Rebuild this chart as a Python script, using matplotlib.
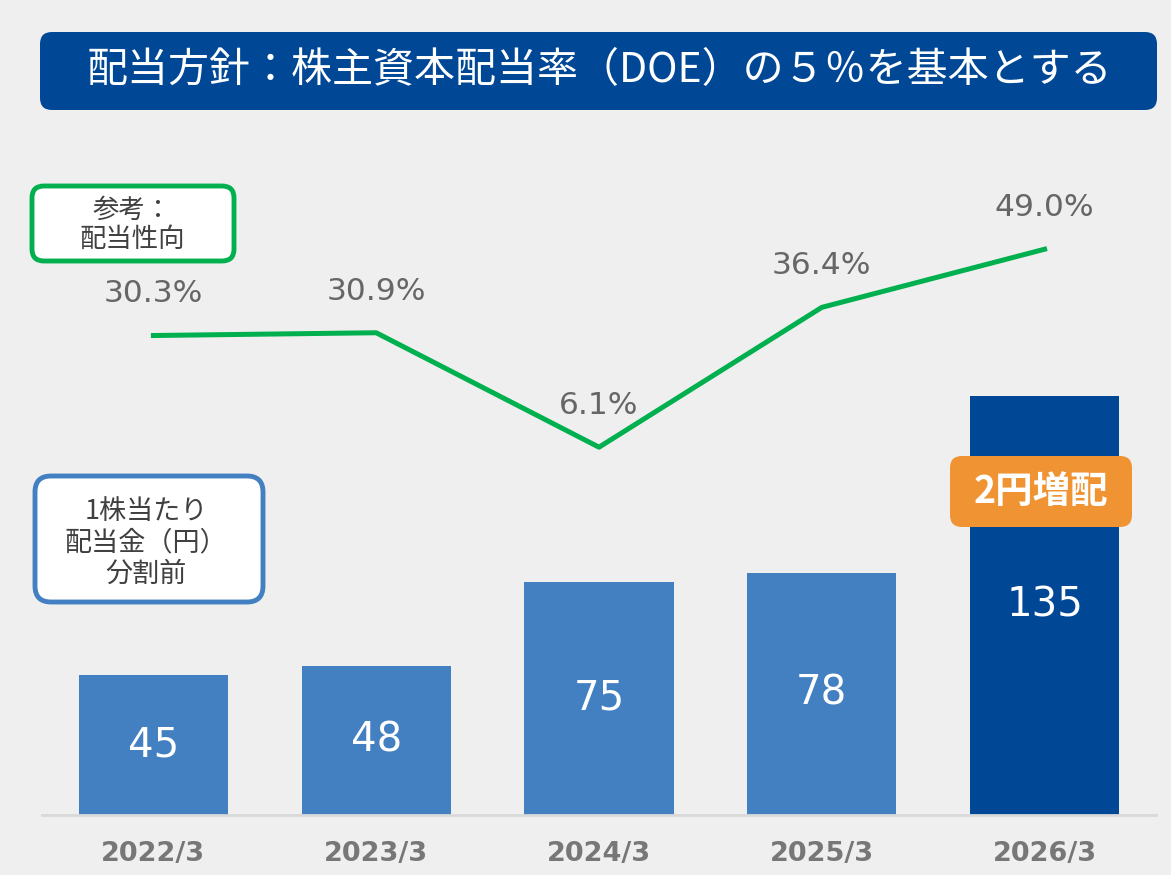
import matplotlib.pyplot as plt
from matplotlib.patches import FancyBboxPatch

plt.rcParams['font.family'] = ['Noto Sans CJK JP', 'DejaVu Sans']

# data
years = ['2022/3', '2023/3', '2024/3', '2025/3', '2026/3']
dividend = [45, 48, 75, 78, 135]
payout = [30.3, 30.9, 6.1, 36.4, 49.0]
title = '配当方針：株主資本配当率（DOE）の５％を基本とする'

W, H = 1171, 875
fig = plt.figure(figsize=(W / 100, H / 100), dpi=100, facecolor='#efefef')

# main axes for bars (pixel layout: left 42, right 1156, bottom 815, top 120)
left, right, bottom, top = 42, 1156, 815, 120
ax = fig.add_axes([left / W, 1 - bottom / H, (right - left) / W, (bottom - top) / H])
ax.set_facecolor('none')

x = range(len(years))
colors = ['#4380c2'] * 4 + ['#004896']
ax.bar(x, dividend, width=0.67, color=colors, zorder=2)
ax.set_xlim(-0.5, 4.5)
ax.set_ylim(0, 224)
for i, v in enumerate(dividend):
    ax.text(i, v / 2, f'{v}', ha='center', va='center', color='white',
            fontsize=29, family='DejaVu Sans', zorder=3)

ax.set_xticks(list(x))
ax.set_xticklabels(years, fontsize=19.5, fontweight='bold', color='#777777',
                   family='DejaVu Sans')
ax.tick_params(axis='x', length=0, pad=19)
ax.set_yticks([])
for s in ['top', 'right', 'left']:
    ax.spines[s].set_visible(False)
ax.spines['bottom'].set_color('#d9d9d9')
ax.spines['bottom'].set_linewidth(2)

# line on twin axis
ax2 = ax.twinx()
ax2.set_facecolor('none')
ax2.plot(list(x), payout, color='#00b04f', linewidth=3.6, zorder=4)
ax2.set_ylim(-73.6, 77.0)
ax2.set_yticks([])
for s in ax2.spines.values():
    s.set_visible(False)
for i, v in enumerate(payout):
    ax2.annotate(f'{v:.1f}%', (i, v), xytext=(0, 30), textcoords='offset points',
                 ha='center', va='center', color='#666666', fontsize=22.5,
                 family='DejaVu Sans')

# overlay in pixel coordinates for boxes
ov = fig.add_axes([0, 0, 1, 1], zorder=5)
ov.set_xlim(0, W)
ov.set_ylim(H, 0)
ov.axis('off')
ov.patch.set_alpha(0)

ov.add_patch(FancyBboxPatch((40, 32), 1117, 78, boxstyle='round,pad=0,rounding_size=12',
                            facecolor='#004896', edgecolor='none'))
ov.text(599, 71, title, ha='center', va='center', color='white', fontsize=29.5)

ov.add_patch(FancyBboxPatch((32, 186), 202, 75, boxstyle='round,pad=0,rounding_size=12',
                            facecolor='white', edgecolor='#00b04f', linewidth=3.5))
ov.text(132, 225, '参考：\n配当性向', ha='center', va='center', color='#404040',
        fontsize=19, linespacing=1.1)

ov.add_patch(FancyBboxPatch((35, 476), 228, 126, boxstyle='round,pad=0,rounding_size=16',
                            facecolor='white', edgecolor='#4380c2', linewidth=3.5))
ov.text(146, 543, '1株当たり\n配当金（円）\n分割前', ha='center', va='center',
        color='#404040', fontsize=19.5, linespacing=1.2)

ov.add_patch(FancyBboxPatch((950, 456), 182, 71, boxstyle='round,pad=0,rounding_size=12',
                            facecolor='#f09433', edgecolor='none'))
ov.text(1041, 491, '2円増配', ha='center', va='center', color='white',
        fontsize=27, fontweight='bold')

fig.savefig('out.png', dpi=100, facecolor=fig.get_facecolor())
